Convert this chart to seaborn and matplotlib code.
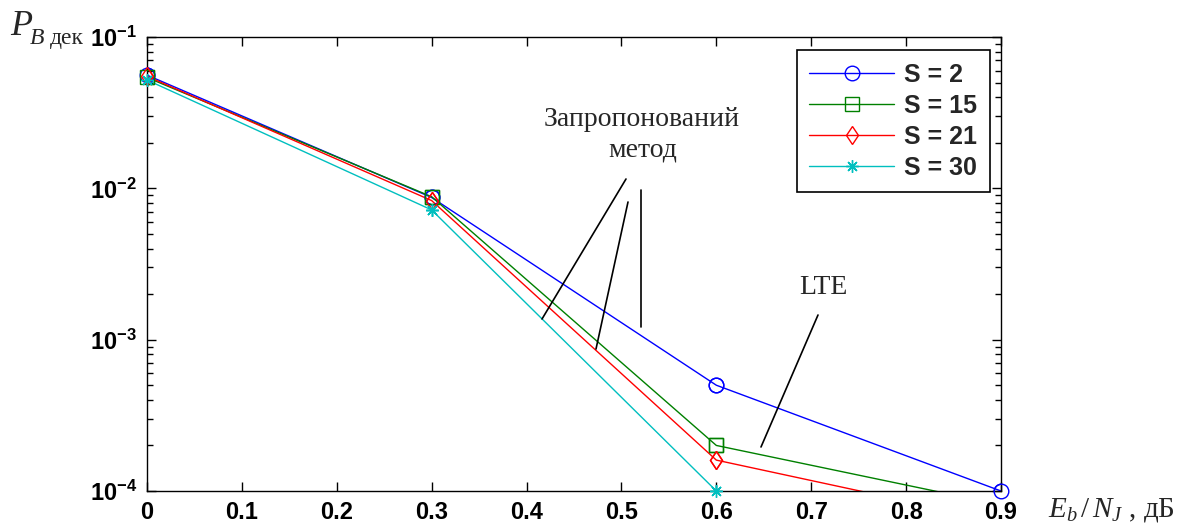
import matplotlib
matplotlib.use("Agg")
import matplotlib.pyplot as plt
from matplotlib import ticker
from matplotlib.lines import Line2D
import numpy as np
import pandas as pd
import seaborn as sns

# values
eb_nj = [0.0, 0.3, 0.6, 0.9]
ber_s2 = [0.056, 0.0087, 5.0e-4, 1.0e-4]
ber_s15 = [0.054, 0.0088, 2.0e-4, 8.1e-5]
ber_s21 = [0.055, 0.0083, 1.6e-4, 6.3e-5]
ber_s30 = [0.052, 0.0072, 1.0e-4, 3.0e-5]
labels = ["S = 2", "S = 15", "S = 21", "S = 30"]
colors = ["#0000ff", "#008000", "#ff0000", "#00bfbf"]
markers = ["o", "s", "d", (8, 2, 0)]
msizes = [10.5, 10, 9.5, 9]
xticks = [0, 0.1, 0.2, 0.3, 0.4, 0.5, 0.6, 0.7, 0.8, 0.9]
xtick_labels = ["0", "0.1", "0.2", "0.3", "0.4", "0.5", "0.6", "0.7", "0.8", "0.9"]
yticks = [1e-4, 1e-3, 1e-2, 1e-1]

sns.set_style("ticks", {"xtick.direction": "in", "ytick.direction": "in",
                        "axes.edgecolor": "black"})
plt.rcParams["font.family"] = ["Liberation Sans", "DejaVu Sans"]
plt.rcParams["mathtext.fontset"] = "custom"
plt.rcParams["mathtext.bf"] = "Liberation Sans:bold"
plt.rcParams["mathtext.it"] = "Liberation Serif:italic"
plt.rcParams["mathtext.rm"] = "Liberation Serif"

W, H = 1191, 527
fig = plt.figure(figsize=(W / 100, H / 100), dpi=100)
ax = fig.add_axes([147 / W, 1 - 491 / H, (1001 - 147) / W, (491 - 37) / H])

series = [ber_s2, ber_s15, ber_s21, ber_s30]
handles = []
for vals, lab, c, m, ms in zip(series, labels, colors, markers, msizes):
    df = pd.DataFrame({"x": eb_nj, "y": vals})
    sns.lineplot(data=df, x="x", y="y", ax=ax, color=c, marker=m,
                 markersize=ms, markerfacecolor="none", markeredgecolor=c,
                 markeredgewidth=1.0, linewidth=1.0, label=lab, legend=False)
    # markers sitting on the axis edges are not clipped (like MATLAB)
    inside = df[df["y"] >= 0.999e-4]
    ax.plot(inside["x"], inside["y"], linestyle="none", marker=m, markersize=ms,
            markerfacecolor="none", markeredgecolor=c, markeredgewidth=1.0,
            clip_on=False, zorder=5)
    handles.append(Line2D([], [], color=c, marker=m, markersize=ms,
                          markerfacecolor="none", markeredgecolor=c,
                          markeredgewidth=1.0, linewidth=1.0))

ax.set_yscale("log")
ax.set_xlim(0, 0.9)
ax.set_ylim(1e-4, 1e-1)
ax.set_xlabel("")
ax.set_ylabel("")

ax.xaxis.set_major_locator(ticker.FixedLocator(xticks))
ax.set_xticklabels(xtick_labels, fontsize=17, fontweight="bold")
ax.yaxis.set_major_locator(ticker.FixedLocator(yticks))
ax.yaxis.set_minor_locator(ticker.LogLocator(base=10, subs=np.arange(2, 10)))
ax.yaxis.set_minor_formatter(ticker.NullFormatter())
ax.set_yticklabels([r"$\mathbf{10^{%d}}$" % int(np.log10(v)) for v in yticks],
                   fontsize=17)
ax.tick_params(which="both", direction="in", top=True, right=True, colors="black")
ax.tick_params(which="major", length=6.5, width=1.0, pad=7)
ax.tick_params(which="minor", length=4.3, width=1.0)
for sp in ax.spines.values():
    sp.set_linewidth(1.0)
    sp.set_color("black")

leg = ax.legend(handles, labels, loc="upper right", bbox_to_anchor=(0.987, 0.971),
                borderaxespad=0, fancybox=False, framealpha=1, edgecolor="black",
                prop={"family": "Liberation Sans", "weight": "bold", "size": 18},
                handlelength=3.4, handletextpad=0.4, labelspacing=0.28,
                borderpad=0.5)
leg.get_frame().set_linewidth(1.2)


def px(x, y):
    return x / W, 1 - y / H


# axis labels, MATLAB-export style
serif = ["Liberation Serif", "DejaVu Serif"]
fig.text(*px(10, 35), "P", fontsize=26, style="italic", family=serif, va="baseline")
fig.text(*px(30, 44), "B", fontsize=17, style="italic", family=serif, va="baseline")
fig.text(*px(50, 44), "дек", fontsize=17, family=serif, va="baseline")
fig.text(*px(1048, 517), r"$E_b\,/\,N_J$ , дБ", fontsize=21, family=serif,
         va="baseline")

# annotations
fig.text(*px(642, 126), "Запропонований", fontsize=20, family=serif,
         ha="center", va="baseline")
fig.text(*px(643, 157), "метод", fontsize=20, family=serif,
         ha="center", va="baseline")
fig.text(*px(823, 294), "LTE", fontsize=20, family=serif, ha="center", va="baseline")
for (x0, y0), (x1, y1) in [((626, 179), (542, 319)), ((628, 202), (596, 349)),
                           ((641, 190), (641, 327)), ((818, 315), (761, 447))]:
    a, b = px(x0, y0)
    c2, d = px(x1, y1)
    fig.add_artist(Line2D([a, c2], [b, d], color="black", linewidth=1.2,
                          transform=fig.transFigure))

fig.savefig("out.png", dpi=100)
